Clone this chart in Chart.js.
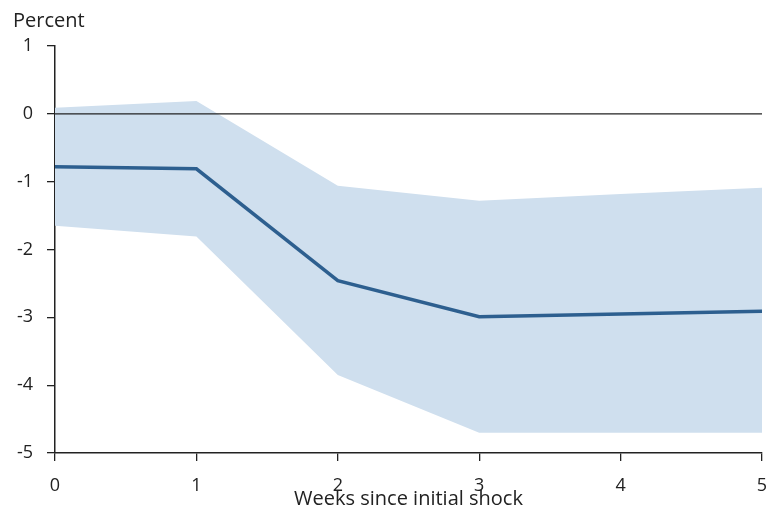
<!DOCTYPE html>
<html>
<head>
<meta charset="utf-8">
<script src="https://cdn.jsdelivr.net/npm/chart.js@4/dist/chart.umd.min.js"></script>
<style>
html,body{margin:0;padding:0;background:#fff;}
#wrap{width:769px;height:515px;position:relative;}
</style>
</head>
<body>
<div id="wrap"><canvas id="c" width="769" height="515"></canvas></div>
<script>
const weeks = [0, 1, 2, 3, 4, 5];
const response = [-0.78, -0.81, -2.46, -2.99, -2.95, -2.91];
const upperBand = [0.09, 0.19, -1.06, -1.28, -1.18, -1.09];
const lowerBand = [-1.65, -1.81, -3.85, -4.70, -4.70, -4.70];
const yTicks = [1, 0, -1, -2, -3, -4, -5];
const yTitle = 'Percent';
const xTitle = 'Weeks since initial shock';

const FONT = 'Open Sans';
const TXT = '#222';
const pts = arr => weeks.map((w, i) => ({x: w, y: arr[i]}));

const percentLabel = {
  id: 'percentLabel',
  afterDraw(chart) {
    const ctx = chart.ctx;
    ctx.save();
    ctx.fillStyle = TXT;
    ctx.font = '20px "' + FONT + '"';
    ctx.textAlign = 'left';
    ctx.textBaseline = 'middle';
    ctx.fillText(yTitle, 13, 21);
    ctx.restore();
  }
};

new Chart(document.getElementById('c'), {
  type: 'line',
  data: {
    datasets: [
      {label: 'upper', data: pts(upperBand), borderWidth: 0, pointRadius: 0, fill: '+1', backgroundColor: '#cfdfee', tension: 0, order: 3},
      {label: 'lower', data: pts(lowerBand), borderWidth: 0, pointRadius: 0, fill: false, tension: 0, order: 3},
      {label: 'zero', data: [{x: weeks[0], y: 0}, {x: weeks[weeks.length - 1], y: 0}], borderColor: TXT, borderWidth: 1.3, pointRadius: 0, fill: false, order: 2},
      {label: 'response', data: pts(response), borderColor: '#2d5f8f', borderWidth: 3.5, pointRadius: 0, fill: false, tension: 0, order: 1}
    ]
  },
  options: {
    responsive: false,
    animation: false,
    layout: {padding: {left: 0, right: 7, top: 46, bottom: 0}},
    plugins: {legend: {display: false}, tooltip: {enabled: false}},
    scales: {
      x: {
        type: 'linear', min: 0, max: 5,
        afterFit(s) { s.height = 62; s.paddingLeft = 0; s.paddingRight = 0; },
        ticks: {stepSize: 1, color: TXT, font: {family: FONT, size: 18}, padding: 14},
        grid: {drawOnChartArea: false, drawTicks: true, tickLength: 8, color: TXT, lineWidth: 1.3},
        border: {color: TXT, width: 1.5},
        title: {display: true, text: xTitle, color: TXT, font: {family: FONT, size: 20}, padding: {top: 0, bottom: 4}}
      },
      y: {
        type: 'linear', min: -5, max: 1,
        afterFit(s) { s.width = 55; s.paddingTop = 0; s.paddingBottom = 0; },
        afterBuildTicks(s) { s.ticks = yTicks.map(v => ({value: v})); },
        ticks: {color: TXT, font: {family: FONT, size: 18}, padding: 14},
        grid: {drawOnChartArea: false, drawTicks: true, tickLength: 8, color: TXT, lineWidth: 1.3},
        border: {color: TXT, width: 1.5}
      }
    }
  },
  plugins: [percentLabel]
});
</script>
</body>
</html>
